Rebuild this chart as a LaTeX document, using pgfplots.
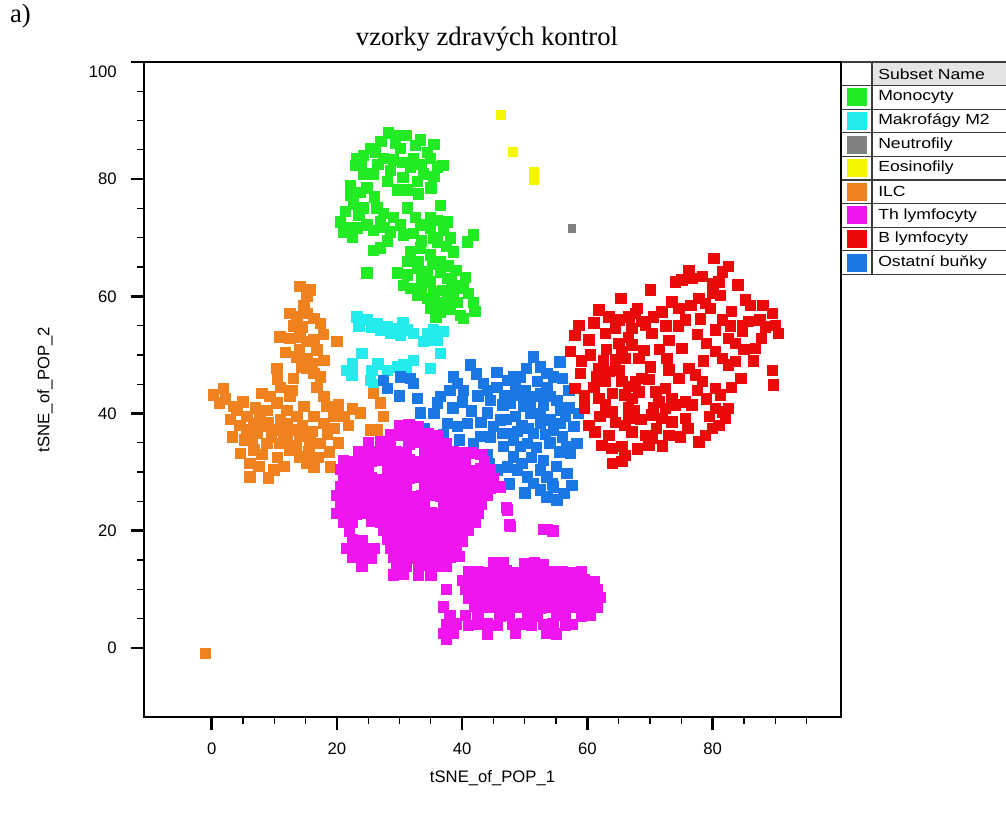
\documentclass[border=0pt]{standalone}
\usepackage{fontspec}
\setmainfont{Liberation Sans}
\newfontfamily\seriffont{Liberation Serif}
\newfontfamily\legfont[FakeStretch=1.2]{Liberation Sans}
\usepackage{pgfplots}
\pgfplotsset{compat=1.18}
\definecolor{cGreen}{RGB}{35,235,35}
\definecolor{cCyan}{RGB}{35,235,235}
\definecolor{cGray}{RGB}{128,128,128}
\definecolor{cYellow}{RGB}{245,245,0}
\definecolor{cOrange}{RGB}{240,130,30}
\definecolor{cPink}{RGB}{240,20,240}
\definecolor{cRed}{RGB}{235,10,10}
\definecolor{cBlue}{RGB}{25,120,230}
\definecolor{cLine}{RGB}{60,60,60}
\definecolor{cHead}{RGB}{228,228,228}
\begin{document}
\begin{tikzpicture}
\useasboundingbox (0,0) rectangle (754.5pt,612pt);
\begin{axis}[
  at={(108pt,74.25pt)}, anchor=south west,
  width=522.75pt, height=491.25pt, scale only axis,
  xmin=-10.8, xmax=100.5, ymin=-11.8, ymax=100,
  xtick={0,20,...,80}, ytick={0,20,...,80},
  extra y ticks={100},
  extra y tick style={yticklabel style={yshift=-7pt}},
  minor xtick={5,10,15,25,30,35,45,50,55,65,70,75,85,90,95},
  minor ytick={5,10,15,25,30,35,45,50,55,65,70,75,85,90,95},
  xtick pos=bottom, ytick pos=left,
  tick align=outside,
  major tick length=10pt, minor tick length=5pt,
  every major tick/.append style={line width=2pt, black},
  every minor tick/.append style={line width=0.9pt, black},
  axis line style={line width=1.1pt, black},
  /pgf/number format/assume math mode=true,
  tick label style={font=\fontsize{12.5}{14}\selectfont},
  xticklabel style={yshift=-6pt},
  yticklabel style={xshift=-7pt},
  xlabel={tSNE\_of\_POP\_1}, ylabel={tSNE\_of\_POP\_2},
  label style={font=\fontsize{12.5}{14}\selectfont},
  xlabel style={at={(axis description cs:0.5,-0.093)}, anchor=center},
  ylabel style={at={(axis description cs:-0.142,0.5)}, anchor=center},
  clip=true,
  every axis plot/.append style={only marks, mark=square*, mark size=3.9pt},
]
% Monocyty
\addplot[cGreen, mark options={draw=cGreen, fill=cGreen}] coordinates {
(28.2,87.9)(29.6,87.5)(29.3,86.2)(30.1,85.3)(33.3,86.7)(32.5,85.8)
(25.3,85.3)(26.1,84.6)(24.2,84.1)(23.2,83.6)(22.9,82.4)
(27.4,83.6)(29.0,83.3)(30.4,82.9)(31.7,82.1)(32.2,83.6)(34.4,84.6)(34.9,83.6)(36.9,82.4)(36.0,82.1)
(24.2,80.9)(25.8,80.9)(28.0,79.6)(29.6,78.2)(31.2,78.2)(32.8,79.6)(33.8,80.9)
(22.1,79.0)(23.7,77.8)(22.1,77.3)
(24.2,75.1)(26.4,75.1)(27.4,74.2)(31.2,75.1)(34.9,73.5)(36.0,73.0)(37.6,72.7)
(20.5,72.7)(21.6,71.8)(21.0,71.0)(23.2,71.7)(24.8,72.2)(25.8,71.3)(26.9,72.7)(28.5,71.0)(30.1,72.2)(30.6,70.5)(32.2,70.8)(33.3,72.2)(34.9,71.7)(37.0,71.3)(38.1,70.0)(36.0,69.3)
(25.8,67.9)(26.9,68.3)(31.7,67.6)(33.3,68.3)(34.9,67.1)(36.5,65.9)(38.6,67.6)(40.8,69.3)(41.8,70.5)
(24.8,64.0)(29.6,64.0)(31.2,63.7)(32.8,64.8)(34.4,64.2)(34.9,62.5)(36.5,64.2)(37.6,63.1)(39.2,61.9)(40.2,61.4)(30.6,61.9)(31.7,61.4)(32.8,60.2)(34.4,59.7)(36.0,59.0)(37.6,59.7)(39.2,59.0)(41.8,59.0)(34.9,58.0)(36.5,57.3)(39.7,56.8)(40.2,56.3)
(27.0,86.5)(23.8,82.5)(35.5,80.5)(30.5,80.3)(21.3,74.5)(29.0,73.5)(35.5,70.0)(37.5,68.5)(35.2,65.5)(37.8,65.2)(33.5,62.8)(36.8,61.0)(38.5,60.5)(35.5,60.8)(38.0,57.8)(33.0,66.0)
(26.5,82.5)(28.5,81.5)(33.5,82.5)(35.5,86.0)(31,87.5)(24.8,78.5)(22.6,75.8)(26,77)(33,77.5)(35,78.5)(36.5,75.5)(32.5,73.5)(23.5,73.8)(28,69.5)(33.5,69.5)(31.2,66)(39,64.5)(40.5,63.3)(38.3,62.5)(41,60.5)(33.5,61)(37,58.2)(35.8,56.5)(42,57.5)(27.5,71.8)(22.5,70.2)
};
% Makrofagy M2
\addplot[cCyan, mark options={draw=cCyan, fill=cCyan}] coordinates {
(23.2,56.5)(24.8,56.0)(26.4,55.4)(28.0,54.8)(29.6,54.6)(31.2,54.3)(32.2,53.7)(26.9,54.3)(28.5,53.7)(30.1,53.4)(34.4,53.7)(35.4,54.3)(37.0,54.0)(33.8,52.3)(34.6,52.6)(24.0,50.3)(21.6,47.4)(22.4,46.6)(25.6,47.4)(25.3,45.7)(25.8,44.9)(28.0,47.4)(29.6,48.0)(30.6,48.3)(32.2,49.1)(34.9,47.7)(36.5,50.3)
(23.5,55.0)(25.5,54.8)(30.5,55.5)(36.0,52.5)(26.5,48.5)(31.0,47.5)(22.5,48.5)
};
% Neutrofily
\addplot[cGray, mark options={draw=cGray, fill=cGray}, mark size=2.8pt] coordinates {(57.5,71.6)};
% Eosinofily
\addplot[cYellow, mark options={draw=cYellow, fill=cYellow}, mark size=3.4pt] coordinates {(46.1,91.0)(48.1,84.7)(51.4,81.3)(51.4,79.9)};
% ILC
\addplot[cOrange, mark options={draw=cOrange, fill=cOrange}] coordinates {
(14.1,61.7)(15.7,61.1)(15.2,60.0)(12.5,57.1)(13.6,56.5)(15.2,57.1)(16.3,56.3)(17.3,55.4)(10.9,53.1)(12.5,52.8)(14.1,53.1)(15.2,52.3)(16.3,52.6)(16.8,50.9)(20.0,52.3)(13.6,49.7)(15.2,49.4)(17.9,49.1)(15.2,47.7)(16.3,46.9)(17.3,46.3)(10.4,47.7)
(0.3,43.2)(1.9,44.3)(3.5,41.2)(4.0,40.6)(5.6,39.5)(6.7,38.3)(7.7,39.5)(8.8,40.6)(9.3,42.9)(10.4,41.8)(12.5,42.9)(12.0,40.6)(13.6,39.5)(14.7,41.2)(16.3,39.5)(17.9,42.9)(18.4,41.2)(19.5,39.5)(21.1,39.5)(17.9,38.3)(23.7,40.1)
(5.6,37.2)(7.2,36.6)(8.8,37.8)(10.4,37.2)(12.0,38.3)(13.1,37.2)(14.1,36.1)(15.7,35.5)(17.3,34.9)(4.6,33.2)(6.7,33.8)(8.8,34.9)(10.9,34.9)(12.5,33.8)(14.1,32.6)(15.2,31.5)(16.3,30.9)(6.1,31.5)(6.1,29.2)(9.9,30.4)(18.9,30.9)
(25.8,43.5)(26.9,41.8)(27.4,39.5)(25.3,37.2)(26.4,37.2)
(5,42)(7,41)(9,38.5)(11,39)(6.5,35.5)(8,33)(10.5,32.5)(12,35.5)(14.5,38)(16,37)(18.5,36.5)(3,39)(2.2,42.5)(11,44.5)(13,46)(8,43.5)(14,51)(13,55)(14.7,58.5)(19.5,37.5)(21.8,38)(7.5,31)
(1.2,41.8)(4.5,38)(7.5,37.8)(9.5,36)(11.5,36.5)(13.5,34.5)(15.5,33.5)(17,32.5)(11.5,31)(9,29)(5.3,35.5)(3.3,36)(12.8,44)(10.5,45.8)(14.3,48)(16,48.5)(17.8,53.5)(14.5,54.8)(11.8,50.5)(16.8,44.5)(20.2,41.5)(22.5,40.8)(18.8,33.5)(20.2,35)
(-1.0,-0.9)
};
% Ostatni bunky
\addplot[cBlue, mark options={draw=cBlue, fill=cBlue}] coordinates {
(41.3,48.3)(27.4,45.7)(28.0,44.3)(30.1,46.3)(31.7,46.0)(32.2,45.2)(32.8,42.6)(33.3,40.1)(36.5,42.9)(36.0,41.8)(38.6,46.3)(39.2,45.2)(40.2,44.0)(37.6,38.3)(39.2,37.8)(40.8,38.3)(41.8,34.9)(42.9,36.1)(43.4,45.2)(44.0,44.0)(44.5,42.3)(44.0,40.1)(46.1,38.9)(47.2,36.6)(48.2,35.5)(49.3,34.4)(50.4,34.9)(51.4,36.6)(52.5,38.3)
(51.4,49.7)(52.5,48.0)(53.5,46.9)(54.6,46.3)(47.2,45.7)(48.2,46.3)(49.3,46.3)(47.7,42.9)(47.7,41.8)(49.8,41.2)(50.9,41.8)(51.4,42.9)(52.5,43.5)(54.1,42.9)(55.1,42.3)(55.7,40.6)(50.9,40.1)(52.5,39.5)(54.1,38.9)(54.6,37.2)(55.7,38.3)(56.7,34.4)(57.3,33.2)(57.8,37.8)(58.3,34.9)
(45.6,30.4)(47.2,30.9)(48.8,30.4)(50.4,29.2)(51.4,28.1)(52.5,30.4)(53.5,29.2)(54.6,27.5)(53.5,25.8)(55.1,25.3)(56.2,26.4)(56.7,29.8)(45.0,37.8)(46.6,34.4)(48.2,32.6)
(45.5,44.5)(46.5,41.5)(48.5,39.5)(47.0,39.0)(49.5,38.0)(50.5,37.5)(51.5,40.0)(53.0,41.5)(53.5,44.5)(52.0,45.5)(50.0,44.0)(48.5,44.5)(45.5,47.0)(42.5,43.0)(41.5,40.5)(43.0,38.5)(44.5,36.0)(49.5,31.5)(51.0,32.5)(53.0,32.0)(55.0,31.0)(54.0,35.0)(56.0,36.0)(55.5,33.5)(52.5,27.0)(44.0,33.0)(35.0,34.5)(34.0,37.5)(38.5,41.0)(30.0,43.0)(55.6,48.8)(57.0,41.0)
(42.3,46.8)(40,42)(38,44)(35.5,40)(37,36.5)(39.5,35.5)(46.8,43)(49.5,43.2)(46.5,36.6)(48.8,37)(51.8,34.2)(53.3,36.5)(56.5,39.5)(58.5,40)(57,44)(56,46)(50.2,47.7)(54.4,28)(57.5,27.8)(50,26.5)(47.5,28)(44.3,31.5)
};
% B lymfocyty
\addplot[cRed, mark options={draw=cRed, fill=cRed}] coordinates {
(80.2,66.5)(82.5,65.1)(81.5,64.2)(81.0,62.5)(79.9,62.2)(76.2,64.5)(76.7,63.1)(75.1,62.8)(74.0,62.5)(78.3,63.4)(70.0,61.1)(65.3,59.7)(81.2,60.2)(85.2,59.4)
(61.8,57.7)(63.4,56.5)(65.0,56.0)(66.6,56.5)(67.6,57.1)(68.7,55.7)(70.3,53.7)(69.2,55.1)(67.1,54.6)(71.9,57.4)(73.5,59.1)(74.6,58.0)(75.6,56.0)(77.8,59.7)(78.8,58.8)(79.6,58.0)(81.5,56.0)(80.4,54.3)(82.5,52.8)(83.6,52.0)(84.7,55.1)(85.7,55.7)(84.7,54.0)(86.8,51.1)(89.5,57.1)(90.0,55.1)(90.5,53.7)(88.4,54.8)(89.5,47.4)(89.7,44.9)
(58.6,55.1)(58.0,53.4)(60.2,52.6)(57.3,50.6)(62.9,53.7)(65.0,52.0)(65.5,50.6)(67.1,51.7)(68.2,49.4)(66.0,49.4)(64.5,49.2)(72.7,49.4)(75.1,51.1)(80.4,50.6)(81.5,49.4)(82.5,48.3)(83.6,48.9)
(61.8,47.7)(58.9,46.9)(58.0,44.3)(61.5,46.3)(63.4,47.2)(65.0,47.4)(65.5,45.5)(62.9,45.5)(66.6,44.6)(67.6,45.5)(68.7,46.0)(69.8,45.8)(74.6,46.0)(76.2,47.7)(77.2,46.6)(78.3,45.5)(80.4,44.3)(81.2,43.2)
(61.8,42.6)(62.9,41.5)(63.9,40.3)(66.0,43.2)(67.1,42.6)(68.2,43.7)(70.9,43.7)(72.4,44.3)(73.5,42.6)(71.4,42.0)(72.4,40.9)(74.0,41.5)(75.6,42.0)(76.7,41.5)(80.4,40.9)(81.5,40.3)(82.5,40.9)(70.3,39.8)(71.9,39.2)(73.5,38.6)(75.6,39.2)
(60.2,38.0)(61.2,36.9)(63.4,36.3)(66.0,38.0)(66.6,39.2)(67.1,36.9)(69.2,36.3)(70.3,35.8)(69.8,34.6)(73.0,36.3)(77.8,35.2)(78.8,36.3)(79.9,37.5)(81.0,38.0)(82.0,39.2)(62.3,34.6)(63.9,34.1)(65.5,34.4)(66.0,32.9)(65.5,31.8)
(68.0,58.0)(70.5,56.5)(72.5,55.0)(60.5,50.0)(63.0,51.0)(77.5,53.5)(79.0,52.0)(86.0,58.5)(87.5,56.0)(84.0,62.0)(78.5,49.0)(70.0,48.0)(64.0,43.5)(66.5,41.0)(68.5,39.0)(76.0,37.5)(72.0,34.5)(59.5,41.0)(62.0,39.5)
(59,49)(61,55.5)(64.5,54.5)(66.5,53)(69,50.8)(71.5,51)(73,52.5)(74.5,55)(76.5,58.5)(78,56.2)(80,60.5)(83,57.5)(82.8,55)(85,51)(87.8,52.8)(88,58.5)(86.5,49)(84.5,46)(83,44.5)(79,42.5)(77.5,44)(73,47.5)(70.5,41)(67.5,40.5)(64.5,38.5)(61,44.5)(59.5,43)(62.5,49)(71,37.5)(74.8,36)(79.5,39.5)(68,34)(64,31.5)
};
% Th lymfocyty
\addplot[cPink, mark options={draw=cPink, fill=cPink}] coordinates {
(30,38)(31.5,38.2)(33,37.8)
(28.5,36.5)(30,36.3)(31.5,36.6)(33,36.4)(34.5,36.6)(36,36.3)
(25,35)(27,35.2)(28.5,34.9)(31.5,34.8)(33,35.1)(34.5,34.9)(36,35.2)(37.5,34.9)
(23.5,33.5)(25,33.3)(26.5,33.6)(28,33.4)(29.5,33.6)(31,33.3)(34,33.6)(35.5,33.3)(37,33.5)(38.5,33.6)(40,33.4)(41.5,33.3)(43,33)
(21,32)(22.5,31.8)(24,32.1)(25.5,31.9)(27,32.1)(28.5,31.8)(30,32)(31.5,32.2)(33,31.9)(34.5,32.1)(36,31.8)(37.5,32)(39,32.2)(40.5,31.9)(43.5,31.8)
(20.5,30.5)(22,30.6)(23.5,30.3)(25,30.5)(28,30.4)(29.5,30.5)(31,30.3)(32.5,30.6)(34,30.4)(35.5,30.5)(37,30.7)(38.5,30.4)(40,30.5)(41.5,30.3)(43,30.6)(44.5,30.4)
(21,29)(22.5,28.8)(24,29.1)(25.5,29)(27,28.8)(28.5,29.1)(30,29)(31.5,28.9)(33,29.1)(34.5,29)(36,28.8)(37.5,29)(39,29.2)(40.5,28.9)(42,29)(43.5,29.1)(45,28.9)
(20.5,27.5)(22,27.4)(23.5,27.6)(25,27.5)(26.5,27.3)(28,27.6)(29.5,27.5)(31,27.4)(34,27.5)(35.5,27.3)(37,27.6)(38.5,27.5)(40,27.4)(41.5,27.6)(43,27.5)(44.5,27.3)(46,27.5)
(20,26)(21.5,26.1)(23,25.9)(24.5,26)(26,26.2)(27.5,25.9)(29,26)(30.5,26.1)(32,25.8)(33.5,26)(35,26.1)(36.5,25.9)(38,26)(39.5,26.2)(41,25.9)(42.5,26)(44,26.1)
(20.5,24.5)(22,24.4)(23.5,24.6)(25,24.5)(26.5,24.3)(28,24.6)(29.5,24.5)(31,24.4)(32.5,24.6)(34,24.5)(37,24.6)(38.5,24.5)(40,24.4)(41.5,24.6)(43,24.5)(47,24)
(20,23)(21.5,23.1)(23,22.9)(24.5,23)(26,23.2)(27.5,22.9)(29,23)(30.5,23.1)(32,22.8)(33.5,23)(35,23.1)(36.5,22.9)(38,23)(39.5,23.2)(41,22.9)(42.5,23)
(21,21.5)(22.5,21.4)(25.5,21.6)(27,21.5)(28.5,21.3)(30,21.6)(31.5,21.5)(33,21.4)(34.5,21.6)(36,21.5)(37.5,21.3)(39,21.6)(40.5,21.5)(42,21.4)(47.5,21)
(22,20)(27.5,20.1)(29,19.9)(30.5,20)(32,20.2)(33.5,19.9)(35,20)(36.5,20.1)(38,19.8)(39.5,20)(41,20.1)(53,20.2)(54.5,20)
(22.5,18.5)(24,18.4)(28,18.6)(29.5,18.5)(31,18.3)(32.5,18.6)(34,18.5)(35.5,18.4)(37,18.6)(38.5,18.5)(40,18.3)
(21.5,17)(23,17.1)(24.5,16.9)(26,17)(28.5,17.1)(30,16.9)(31.5,17)(33,17.2)(34.5,16.9)(36,17)(37.5,17.1)(39,16.9)
(22.5,15.5)(24,15.6)(25.5,15.4)(29,15.5)(30.5,15.6)(32,15.4)(33.5,15.5)(35,15.6)(36.5,15.4)(38,15.5)(39.5,15.6)
(24,14)(29.5,14.1)(31,13.9)(33,14)(34.5,14.1)(36,13.9)(37.5,14)
(29,12.5)(30.5,12.6)(33,12.4)(35,12.5)
(45,14.5)(46.5,14.6)(50,14.4)(51.5,14.5)(53,14.3)
(41,13)(42.5,13.1)(44,12.9)(45.5,13)(47,13.2)(48.5,12.9)(50,13)(51.5,13.1)(53,12.8)(54.5,13)(56,13.1)(57.5,12.9)(59,13)
(40,11.5)(41.5,11.6)(43,11.4)(44.5,11.5)(46,11.6)(47.5,11.4)(49,11.5)(50.5,11.7)(52,11.4)(53.5,11.5)(55,11.6)(56.5,11.4)(58,11.5)(59.5,11.6)(61,11.4)
(37.5,10)(40.5,10.1)(42,9.9)(43.5,10)(45,10.2)(46.5,9.9)(48,10)(49.5,10.1)(51,9.8)(52.5,10)(54,10.1)(55.5,9.9)(57,10)(58.5,10.2)(60,9.9)(61.5,10)
(41,8.5)(42.5,8.4)(44,8.6)(45.5,8.5)(47,8.3)(48.5,8.6)(50,8.5)(51.5,8.4)(53,8.6)(54.5,8.5)(56,8.3)(57.5,8.6)(59,8.5)(60.5,8.4)(62,8.6)
(37,7)(42,7.1)(43.5,6.9)(45,7)(46.5,7.2)(48,6.9)(49.5,7)(51,7.1)(52.5,6.8)(54,7)(55.5,7.1)(57,6.9)(58.5,7)(60,7.2)(61.5,6.9)
(38,5.5)(40.5,5.6)(42.5,5.4)(46,5.5)(47.5,5.6)(50.5,5.4)(52,5.5)(55,5.6)(56.5,5.4)(59,5.5)(60.5,5.6)
(37.5,4)(39,4.1)(41,3.9)(42.5,4)(44,4.1)(45.5,3.9)(48,4)(49.5,4.1)(51,3.9)(53,4)(54.5,4.1)(56.5,3.9)(57.5,4)
(37,2.5)(38.5,2.6)(44,2.4)(48.5,2.5)(53.5,2.6)(55,2.4)
(37.5,1.5)
(47.2,23.6)(47.7,20.8)(53.5,20.2)(54.6,20.0)
};
\end{axis}
% title and panel label
\node[font=\seriffont\fontsize{20}{24}\selectfont, anchor=west] at (4pt,600pt) {a)};
\node[font=\seriffont\fontsize{20}{24}\selectfont] at (365.25pt,583pt) {vzorky zdravých kontrol};
% legend table
\def\rh{17.7}
\fill[cHead] (654pt,565.5pt) rectangle (760pt,565.5pt-\rh pt);
\foreach \i in {0,...,9} {
  \draw[cLine, line width=0.8pt] (630.75pt,565.5pt-\i*\rh pt) -- (760pt,565.5pt-\i*\rh pt);
}
\draw[cLine, line width=0.8pt] (654pt,565.5pt) -- (654pt,565.5pt-9*\rh pt);
\draw[black, line width=1.1pt] (630.75pt,565.5pt) -- (630.75pt,565.5pt-9*\rh pt);
\foreach \c/\t [count=\i] in {cHead/Subset Name,cGreen/Monocyty,cCyan/Makrofágy M2,cGray/Neutrofily,cYellow/Eosinofily,cOrange/ILC,cPink/Th lymfocyty,cRed/B lymfocyty,cBlue/Ostatní buňky} {
  \node[anchor=west, font=\legfont\fontsize{11}{13}\selectfont, inner sep=0pt] at (658.5pt,565.5pt-\i*\rh pt+0.5*\rh pt) {\t};
}
\foreach \c [count=\i] in {cGreen,cCyan,cGray,cYellow,cOrange,cPink,cRed,cBlue} {
  \fill[\c] (635pt,565.5pt-\i*\rh pt-0.5*\rh pt-6.75pt) rectangle (650pt,565.5pt-\i*\rh pt-0.5*\rh pt+6.75pt);
}
\end{tikzpicture}
\end{document}
